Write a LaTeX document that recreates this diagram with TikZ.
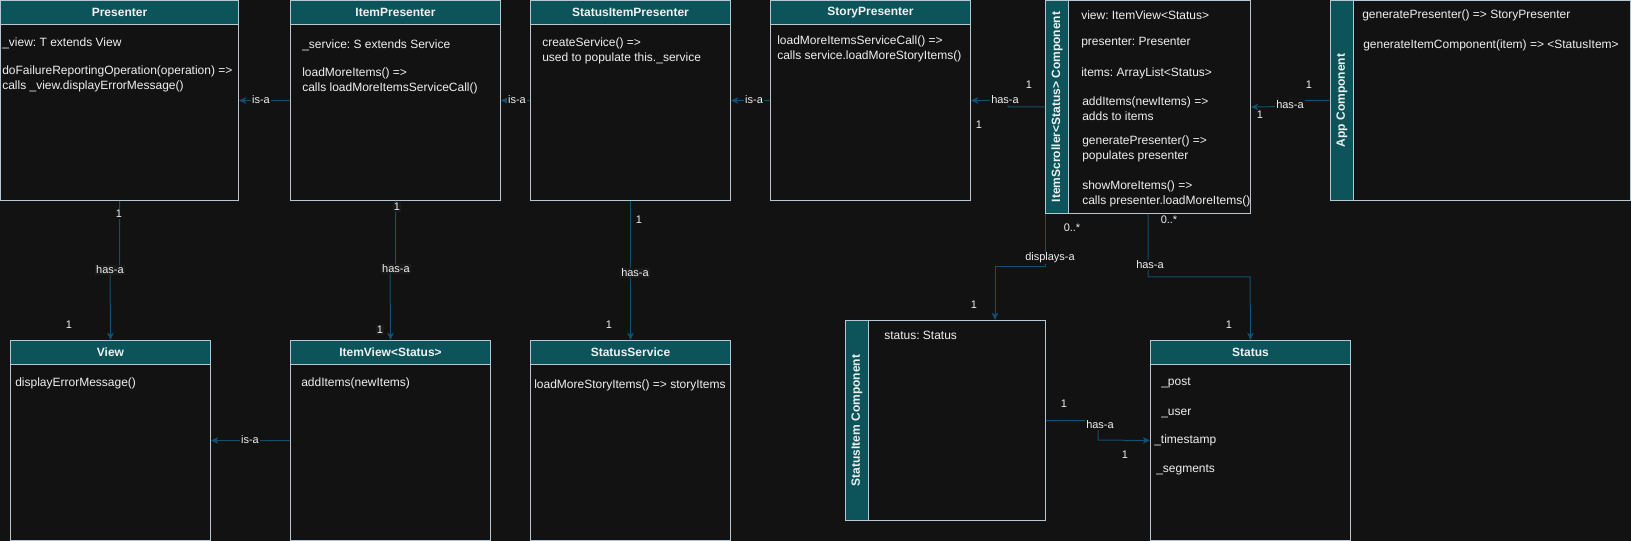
\documentclass[tikz,border=0pt]{standalone}
\usepackage{fontspec}
\setmainfont{Liberation Sans}
\usetikzlibrary{arrows.meta}
\frenchspacing
\definecolor{bg}{HTML}{121212}
\definecolor{bord}{HTML}{B5C7D3}
\definecolor{hdr}{HTML}{0D545A}
\definecolor{arrc}{HTML}{12506F}
\definecolor{txt}{HTML}{F0F0F0}
\definecolor{lblbg}{HTML}{1A1A1A}
\tikzset{
  box/.style={draw=bord, fill=bg, line width=0.75pt, inner sep=0pt, anchor=north west},
  hdrbox/.style={draw=bord, fill=hdr, line width=0.75pt, inner sep=0pt, minimum height=24*0.75pt, anchor=north, text=txt, font=\fontsize{9}{11}\selectfont\bfseries},
  vbar/.style={draw=bord, fill=hdr, line width=0.75pt, inner sep=0pt, minimum width=23*0.75pt, anchor=north west},
  vtitle/.style={rotate=90, text=txt, font=\fontsize{9}{11}\selectfont\bfseries, inner sep=0pt},
  body/.style={text=txt, font=\fontsize{9}{11.25}\selectfont, align=left, inner sep=0pt, anchor=west},
  elab/.style={text=txt, font=\fontsize{8.25}{10}\selectfont, inner sep=0.6pt, fill=bg},
  elabbg/.style={elab, fill=lblbg},
  conn/.style={draw=arrc, line width=0.75pt, -{Stealth[length=5.5pt,width=5pt,inset=1.6pt]}}
}
\newcommand\classbox[6]{%
  \node[box, minimum width=#4*0.75pt, minimum height=#5*0.75pt] (#1) at (#2,#3) {};
  \node[hdrbox, minimum width=#4*0.75pt] (#1-h) at (#1.north) {#6};
}
\newcommand\compbox[6]{%
  \node[box, minimum width=#4*0.75pt, minimum height=#5*0.75pt] (#1) at (#2,#3) {};
  \node[vbar, minimum height=#5*0.75pt] (#1-b) at (#1.north west) {};
  \node[vtitle] (#1-t) at (#1-b.center) {#6};
}
\begin{document}
\begin{tikzpicture}[x=0.75pt, y=-0.75pt]
\fill[bg] (0,0) rectangle (1631,541);
\useasboundingbox (0,0) rectangle (1631,541);

% boxes
\classbox{pr}{0}{0}{238}{200}{Presenter}
\classbox{ip}{290}{0}{210}{200}{ItemPresenter}
\classbox{sip}{530}{0}{200}{200}{StatusItemPresenter}
\classbox{sp}{770}{0}{200}{200}{StoryPresenter}
\compbox{isc}{1045}{0}{205}{213}{ItemScroller<Status> Component}
\compbox{app}{1330}{0}{300}{200}{App Component}
\classbox{view}{10}{340}{200}{200}{View}
\classbox{iv}{290}{340}{200}{200}{ItemView<Status>}
\classbox{ss}{530}{340}{200}{200}{StatusService}
\compbox{si}{845}{320}{200}{200}{StatusItem Component}
\classbox{st}{1150}{340}{200}{200}{Status}

% body texts
\node[body] (t1) at (2,43) {\_view: T extends View};
\node[body] (t2) at (2,78.5) {doFailureReportingOperation(operation) =>\\calls \_view.displayErrorMessage()};
\node[body] (t3) at (302,45) {\_service: S extends Service};
\node[body] (t4) at (302,80.5) {loadMoreItems() =>\\calls loadMoreItemsServiceCall()};
\node[body] (t5) at (542,50.5) {createService() =>\\used to populate this.\_service};
\node[body] (t6) at (777,48.5) {loadMoreItemsServiceCall() =>\\calls service.loadMoreStoryItems()};
\node[body] (t7) at (1081,15) {view: ItemView<Status>};
\node[body] (t8) at (1081,43) {presenter: Presenter};
\node[body] (t9) at (1081,73) {items: ArrayList<Status>};
\node[body] (t10) at (1082,108.5) {addItems(newItems) =>\\adds to items};
\node[body] (t11) at (1082,148.5) {generatePresenter() =>\\populates presenter};
\node[body] (t12) at (1082,194) {showMoreItems() =>\\calls presenter.loadMoreItems()};
\node[body] (t13) at (1362,15) {generatePresenter() => StoryPresenter};
\node[body] (t14) at (1363,45) {generateItemComponent(item) => <StatusItem>};
\node[body] (t15) at (15,383) {displayErrorMessage()};
\node[body] (t16) at (301,383) {addItems(newItems)};
\node[body] (t17) at (534,385) {loadMoreStoryItems() => storyItems};
\node[body] (t18) at (884,335) {status: Status};
\node[body] (t19) at (1161,383) {\_post};
\node[body] (t20) at (1161,413) {\_user};
\node[body] (t21) at (1154,440) {\_timestamp};
\node[body] (t22) at (1156,470) {\_segments};

% connectors
\coordinate (j1) at (1008,100);
\coordinate (j2) at (1290,106.5);
\coordinate (j3) at (110,270);
\coordinate (j4) at (390,269);
\coordinate (j5) at (995,267);
\coordinate (j6) at (1250,277);
\coordinate (j7) at (1098,440);
\draw[conn] (ip.west) -- (pr.east);
\draw[conn] (sip.west) -- (ip.east);
\draw[conn] (sp.west) -- (sip.east);
\draw[conn] (isc.west) -| (j1) -- (sp.east);
\draw[conn] (app.west) -| (j2) -- (isc.east);
\draw[conn] (pr.south) |- (j3) -- (view.north);
\draw[conn] (ip.south) |- (j4) -- (iv.north);
\draw[conn] (sip.south) -- (ss.north);
\draw[conn] (isc.south west) |- (j5) -- (j5 |- si.north);
\draw[conn] (isc.south) |- (j6) -- (st.north);
\draw[conn] (si.east) -| (j7) -- (st.west);
\draw[conn] (iv.west) -- (view.east);

% connector labels
\node[elab] (l1) at (261,100) {is-a};
\node[elab] (l2) at (517,100) {is-a};
\node[elab] (l3) at (754,100) {is-a};
\node[elab] (l4) at (1005,100) {has-a};
\node[elab] (l5) at (1029,85) {1};
\node[elab] (l6) at (979,125) {1};
\node[elab] (l7) at (1290,105) {has-a};
\node[elab] (l8) at (1309,85) {1};
\node[elab] (l9) at (1260,115) {1};
\node[elab] (l10) at (119,214) {1};
\node[elabbg] (l11) at (110,270) {has-a};
\node[elab] (l12) at (69,325) {1};
\node[elabbg] (l13) at (397,207) {1};
\node[elabbg] (l14) at (396,269) {has-a};
\node[elabbg] (l15) at (380,330) {1};
\node[elab] (l16) at (639,220) {1};
\node[elabbg] (l17) at (635,273) {has-a};
\node[elab] (l18) at (609,325) {1};
\node[elab] (l19) at (1072,228) {0..*};
\node[elab] (l20) at (1050,258) {displays-a};
\node[elab] (l21) at (974,305) {1};
\node[elab] (l22) at (1169,220) {0..*};
\node[elab] (l23) at (1150,265) {has-a};
\node[elab] (l24) at (1229,325) {1};
\node[elab] (l25) at (1064,404) {1};
\node[elab] (l26) at (1100,425) {has-a};
\node[elab] (l27) at (1125,455) {1};
\node[elab] (l28) at (250,440) {is-a};
\end{tikzpicture}
\end{document}
